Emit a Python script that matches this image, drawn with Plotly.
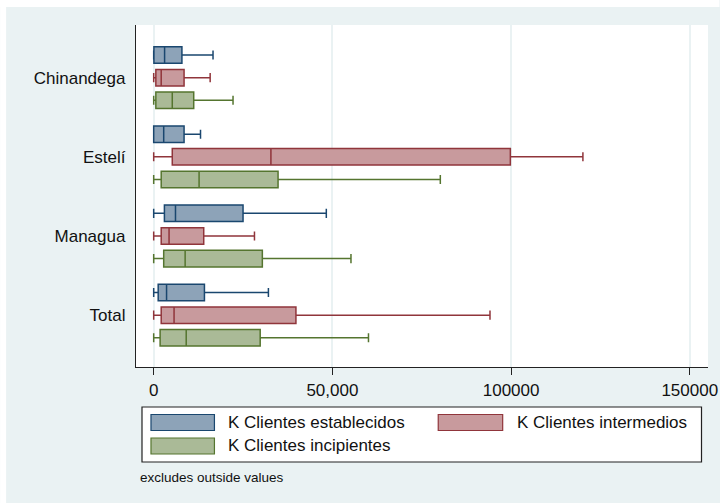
import plotly.graph_objects as go

# Regions (top to bottom)
regions = ["Chinandega", "Estelí", "Managua", "Total"]

# Series names
series = ["K Clientes establecidos", "K Clientes intermedios", "K Clientes incipientes"]

# Box statistics per series, one value per region (outside values excluded)
est_low = [0, 0, 0, 0]
est_q1 = [60, 0, 3000, 1260]
est_med = [3050, 2800, 6100, 3600]
est_q3 = [7900, 8500, 25000, 14200]
est_high = [16600, 13100, 48300, 32100]

int_low = [0, 0, 0, 0]
int_q1 = [600, 5200, 2100, 2100]
int_med = [2100, 32800, 4300, 5700]
int_q3 = [8500, 99800, 14000, 39800]
int_high = [15800, 120100, 28200, 94100]

inc_low = [0, 0, 0, 0]
inc_q1 = [600, 2100, 2800, 1800]
inc_med = [5200, 12700, 8800, 9100]
inc_q3 = [11200, 34800, 30400, 29800]
inc_high = [22200, 80200, 55200, 60100]

# X axis ticks
tick_vals = [0, 50000, 100000, 150000]
tick_text = ["0", "50,000", "100000", "150000"]

note_text = "excludes outside values"

line_colors = ["#1A476F", "#90353B", "#55752F"]
fill_colors = ["#8DA3B8", "#C89A9D", "#AABA97"]

stats = [
    (est_low, est_q1, est_med, est_q3, est_high),
    (int_low, int_q1, int_med, int_q3, int_high),
    (inc_low, inc_q1, inc_med, inc_q3, inc_high),
]

FONT = "Liberation Sans, Arial, sans-serif"
BG = "#EAF2F3"

fig = go.Figure()
for name, (lo, q1, med, q3, hi), lc, fc in zip(series, stats, line_colors, fill_colors):
    fig.add_trace(go.Box(
        name=name,
        orientation="h",
        y=regions,
        lowerfence=lo,
        q1=q1,
        median=med,
        q3=q3,
        upperfence=hi,
        boxpoints=False,
        fillcolor=fc,
        line=dict(color=lc, width=1.5),
        whiskerwidth=0.55,
        showlegend=False,
        hoverinfo="x",
    ))

# Plot-area geometry in pixels (used for the hand-made legend)
W, H = 720, 503
ML, MR, MT, MB = 136, 11.5, 25, 136
PW, PH = W - ML - MR, H - MT - MB


def px(x):
    return (x - ML) / PW


def py(y):
    return (H - MB - y) / PH


shapes = [
    # white strips along the top and left edges of the page
    dict(type="rect", xref="paper", yref="paper", x0=px(0), x1=px(W), y0=py(0), y1=py(7),
         fillcolor="white", line=dict(width=0), layer="below"),
    dict(type="rect", xref="paper", yref="paper", x0=px(0), x1=px(6), y0=py(0), y1=py(H),
         fillcolor="white", line=dict(width=0), layer="below"),
    # legend frame
    dict(type="rect", xref="paper", yref="paper", x0=px(142), x1=px(702), y0=py(407), y1=py(462),
         fillcolor="white", line=dict(color="#222222", width=1.2)),
]

annotations = []
legend_items = [
    (series[0], 151, 214.5, 414.5, 430.5, 226.5),
    (series[1], 438.5, 503, 414.5, 430.5, 515),
    (series[2], 151, 214.5, 438, 454, 226.5),
]
for (label, x0, x1, y0, y1, tx), lc, fc in zip(legend_items, line_colors, fill_colors):
    shapes.append(dict(type="rect", xref="paper", yref="paper",
                       x0=px(x0), x1=px(x1), y0=py(y0), y1=py(y1),
                       fillcolor=fc, line=dict(color=lc, width=1.2)))
    annotations.append(dict(xref="paper", yref="paper", x=px(tx), y=py((y0 + y1) / 2),
                            text=label, showarrow=False, xanchor="left", yanchor="middle",
                            font=dict(family=FONT, size=17, color="#111111")))

annotations.append(dict(xref="paper", yref="paper", x=px(138), y=py(477),
                        text=note_text, showarrow=False, xanchor="left", yanchor="middle",
                        font=dict(family=FONT, size=13.5, color="#111111")))

fig.update_layout(
    width=W, height=H,
    margin=dict(l=ML, r=MR, t=MT, b=MB, pad=0),
    paper_bgcolor=BG,
    plot_bgcolor="white",
    boxmode="group",
    boxgap=0.142,
    boxgroupgap=0.27,
    font=dict(family=FONT, size=17, color="#111111"),
    shapes=shapes,
    annotations=annotations,
)

fig.update_xaxes(
    range=[-4950, 155100],
    automargin=False,
    tickmode="array", tickvals=tick_vals, ticktext=tick_text,
    ticks="outside", ticklen=7, tickwidth=1, tickcolor="#222222",
    showline=True, linecolor="#222222", linewidth=1.3,
    showgrid=True, gridcolor=BG, gridwidth=1.5,
    zeroline=False,
    tickfont=dict(family=FONT, size=17, color="#111111"),
)

fig.update_yaxes(
    type="category",
    automargin=False,
    categoryorder="array", categoryarray=regions,
    range=[3.655, -0.665],
    ticks="", showgrid=False, zeroline=False,
    showline=True, linecolor="#222222", linewidth=1.3,
    ticklabelstandoff=6,
    tickfont=dict(family=FONT, size=17, color="#111111"),
)

fig.write_html("out.html")
